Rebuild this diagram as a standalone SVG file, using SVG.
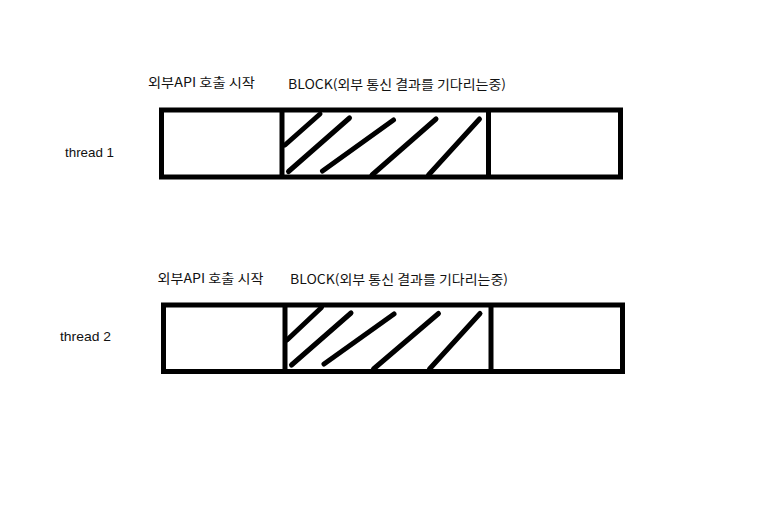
<svg xmlns="http://www.w3.org/2000/svg" width="782" height="509" viewBox="0 0 782 509">
<style>
.box{fill:none;stroke:#000;stroke-width:5;stroke-linejoin:miter}
.div{stroke:#000;stroke-width:5}
.hatch{stroke:#000;stroke-width:5;stroke-linecap:round}
.t{font-family:"Noto Sans CJK KR","Noto Sans",sans-serif;font-size:13px;fill:#111}
.lbl{font-family:"Liberation Sans","Noto Sans",sans-serif;font-size:13px;fill:#111}
</style>
<rect width="782" height="509" fill="#fff"/>
<g id="thread1">
<text class="lbl" x="65" y="157" textLength="49" lengthAdjust="spacingAndGlyphs">thread  1</text>
<text class="t" x="148" y="86.5" textLength="107" lengthAdjust="spacingAndGlyphs">외부API 호출 시작</text>
<text class="t" x="288" y="89" textLength="218" lengthAdjust="spacingAndGlyphs">BLOCK(외부 통신 결과를 기다리는중)</text>
<rect class="box" x="161.5" y="110" width="459" height="67"/>
<line class="div" x1="282" y1="110" x2="282" y2="177"/>
<line class="div" x1="488.5" y1="110" x2="488.5" y2="177"/>
<line class="hatch" x1="285" y1="145" x2="320" y2="114"/>
<line class="hatch" x1="288.5" y1="171.5" x2="349.5" y2="118"/>
<line class="hatch" x1="322.5" y1="171" x2="393.5" y2="120"/>
<line class="hatch" x1="372" y1="175" x2="436" y2="119"/>
<line class="hatch" x1="428.5" y1="175" x2="479.5" y2="119"/>
</g>
<g id="thread2">
<text class="lbl" x="60" y="341" textLength="51" lengthAdjust="spacingAndGlyphs">thread  2</text>
<text class="t" x="157.5" y="282.5" textLength="106" lengthAdjust="spacingAndGlyphs">외부API 호출 시작</text>
<text class="t" x="290" y="284" textLength="218" lengthAdjust="spacingAndGlyphs">BLOCK(외부 통신 결과를 기다리는중)</text>
<rect class="box" x="163.5" y="305" width="459" height="66.5"/>
<line class="div" x1="285" y1="305" x2="285" y2="371.5"/>
<line class="div" x1="491" y1="305" x2="491" y2="371.5"/>
<line class="hatch" x1="287" y1="340" x2="321.5" y2="307.5"/>
<line class="hatch" x1="291.5" y1="365" x2="351" y2="313"/>
<line class="hatch" x1="324" y1="364" x2="394" y2="314"/>
<line class="hatch" x1="373.5" y1="369" x2="438.5" y2="313.5"/>
<line class="hatch" x1="429.5" y1="369" x2="480" y2="313.5"/>
</g>
<g id="connectors"></g>
</svg>
